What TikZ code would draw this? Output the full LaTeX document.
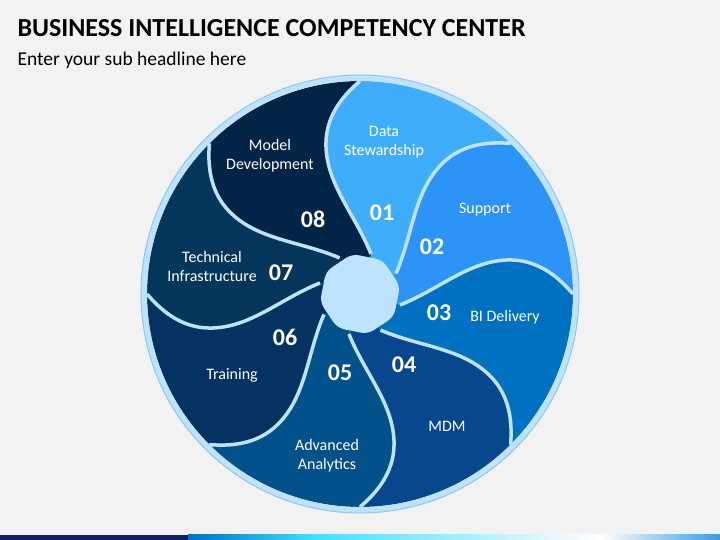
\documentclass[tikz,border=0pt]{standalone}
\usepackage{fontspec}
\setmainfont{Carlito}
\definecolor{bgray}{HTML}{F2F2F2}
\definecolor{gapblue}{HTML}{BDE3FF}
\definecolor{edgeblue}{HTML}{8EC6F3}
\definecolor{cone}{HTML}{40ADFB}
\definecolor{ctwo}{HTML}{2B94F6}
\definecolor{cthree}{HTML}{0070C0}
\definecolor{cfour}{HTML}{08478D}
\definecolor{cfive}{HTML}{02518A}
\definecolor{csix}{HTML}{043362}
\definecolor{cseven}{HTML}{04365B}
\definecolor{ceight}{HTML}{022447}
\definecolor{navy}{HTML}{0B2060}
% one swirl divider, from the hub out to the rim, and back
\newcommand{\swirlout}[1]{(#1-15.4:41.5) .. controls (#1+3.6:80.2) and (#1+17.2:115.1) .. (#1+12.8:153.8) .. controls (#1+10.7:183.2) and (#1+4.3:200.6) .. (#1:213)}
\newcommand{\swirlin}[1]{(#1:213) .. controls (#1+4.3:200.6) and (#1+10.7:183.2) .. (#1+12.8:153.8) .. controls (#1+17.2:115.1) and (#1+3.6:80.2) .. (#1-15.4:41.5)}
\tikzset{
  lbl/.style={text=white,align=center,font=\fontsize{16}{19}\selectfont},
  num/.style={text=white,font=\bfseries\fontsize{24}{24}\selectfont},
  gapline/.style={draw=gapblue,line width=3.5pt}
}
\begin{document}
\begin{tikzpicture}[x=1pt,y=1pt]
    \fill[bgray] (0,0) rectangle (720,540);
    \useasboundingbox (0,0) rectangle (720,540);
    % headline
    \node[anchor=west,font=\bfseries\fontsize{26}{26}\selectfont] (title) at (14,512) {BUSINESS INTELLIGENCE COMPETENCY CENTER};
    \node[anchor=west,font=\fontsize{19.5}{19.5}\selectfont] (sub) at (14,480) {Enter your sub headline here};
    % wheel
    \begin{scope}[shift={(360,246)}]
    \fill[gapblue] (0,0) circle[radius=219];
    \foreach \a/\c in {45/cone,0/ctwo,-45/cthree,-90/cfour,-135/cfive,-180/csix,-225/cseven,-270/ceight}
      \fill[\c] (0,0) -- \swirlout{\a} arc[start angle=\a, delta angle=45, radius=213] -- \swirlin{\a+45} -- cycle;
    \foreach \a in {0,45,...,315}
      \draw[gapline] \swirlout{\a};
    \draw[gapblue,line width=6pt] (0,0) circle[radius=216];
    \draw[edgeblue,line width=1pt] (0,0) circle[radius=219];
    \fill[gapblue] plot[domain=0:360,samples=120,variable=\t] (\t:{38.5+0.8*sin(8*\t)}) -- cycle;
    \end{scope}
    % labels
    \node[lbl] (ds) at (384,398) {Data\\Stewardship};
    \node[num] (n1) at (382,327) {01};
    \node[lbl] (sup) at (485,330) {Support};
    \node[num] (n2) at (432,293) {02};
    \node[num] (n3) at (439,227) {03};
    \node[lbl] (bid) at (505,223) {BI Delivery};
    \node[num] (n4) at (404,175) {04};
    \node[lbl] (mdm) at (447,114) {MDM};
    \node[num] (n5) at (340,167) {05};
    \node[lbl] (aa) at (327,84) {Advanced\\Analytics};
    \node[num] (n6) at (285,203) {06};
    \node[lbl] (trn) at (232,165) {Training};
    \node[num] (n7) at (281,267) {07};
    \node[lbl] (ti) at (212,273) {Technical\\Infrastructure};
    \node[num] (n8) at (313,321) {08};
    \node[lbl] (md) at (270,384) {Model\\Development};
    % bottom bar
    \fill[navy] (0,0) rectangle (188,5);
    \shade[left color=cthree,right color=cyan!80!blue!70] (188,0) rectangle (316,5);
    \shade[left color=cyan!80!blue!70,right color=white] (316,0) rectangle (600,5);
    \shade[left color=white,right color=cone!90!black] (600,0) rectangle (720,5);
\end{tikzpicture}
\end{document}
